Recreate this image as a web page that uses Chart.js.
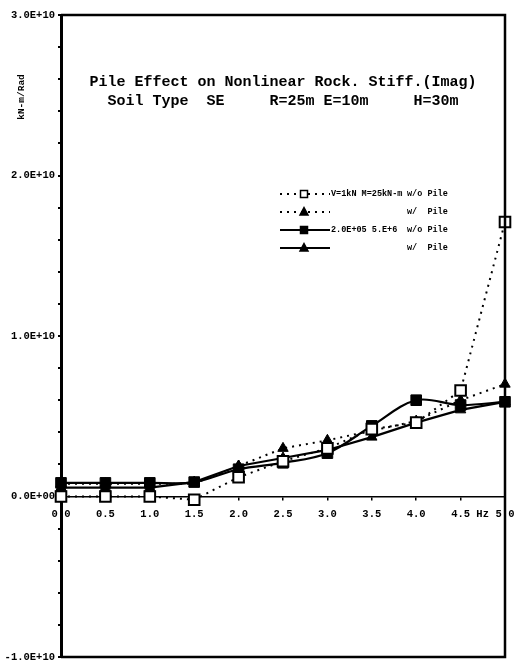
<!DOCTYPE html>
<html>
<head>
<meta charset="utf-8">
<script src="https://cdn.jsdelivr.net/npm/chart.js@4/dist/chart.umd.min.js"></script>
<style>
html,body{margin:0;padding:0;background:#fff;}
canvas{display:block;}
</style>
</head>
<body>
<canvas id="c" width="517" height="662"></canvas>
<script>
// Frequencies (Hz)
const freqs = [0.0, 0.5, 1.0, 1.5, 2.0, 2.5, 3.0, 3.5, 4.0, 4.5, 5.0];
// Stiffness values in units of 1.0E+10 kN-m/Rad
const s1_V1kN_woPile = [0.00, 0.00, 0.00, -0.02, 0.12, 0.22, 0.30, 0.42, 0.46, 0.66, 1.71];
const s2_V1kN_wPile  = [0.08, 0.08, 0.08, 0.08, 0.19, 0.30, 0.35, 0.41, 0.47, 0.60, 0.70];
const s3_2E5_woPile  = [0.085, 0.085, 0.085, 0.09, 0.17, 0.21, 0.27, 0.44, 0.60, 0.57, 0.59];
const s4_2E5_wPile   = [0.055, 0.055, 0.055, 0.09, 0.19, 0.24, 0.29, 0.37, 0.46, 0.54, 0.59];

const xTickLabels = {"0":"0.0","0.5":"0.5","1":"1.0","1.5":"1.5","2":"2.0","2.5":"2.5","3":"3.0","3.5":"3.5","4":"4.0","4.5":"   4.5 Hz","5":"5.0"};
const yTickLabels = {"3":"3.0E+10","2":"2.0E+10","1":"1.0E+10","0":"0.0E+00","-1":"-1.0E+10"};
const legendText = [
  ["V=1kN M=25kN-m", "w/o Pile"],
  ["", "w/  Pile"],
  ["2.0E+05 5.E+6", "w/o Pile"],
  ["", "w/  Pile"]
];
const titleLines = [
  "Pile Effect on Nonlinear Rock. Stiff.(Imag)",
  "Soil Type  SE     R=25m E=10m     H=30m"
];
const yAxisTitle = "kN-m/Rad";

const pts = arr => freqs.map((f,i)=>({x:f, y:arr[i]}));

const datasets = [
  {label:'s1', data:pts(s1_V1kN_woPile), borderColor:'#000', borderWidth:2, borderDash:[2,5],
   pointStyle:'rect', pointRadius:7.5, pointBackgroundColor:'#fff', pointBorderColor:'#000', pointBorderWidth:2, tension:0, clip:false},
  {label:'s2', data:pts(s2_V1kN_wPile), borderColor:'#000', borderWidth:2, borderDash:[2,5],
   pointStyle:'triangle', pointRadius:6, pointBackgroundColor:'#000', pointBorderColor:'#000', pointBorderWidth:1, tension:0, clip:false},
  {label:'s3', data:pts(s3_2E5_woPile), borderColor:'#000', borderWidth:2.2,
   pointStyle:'rect', pointRadius:7.5, pointBackgroundColor:'#000', pointBorderColor:'#000', pointBorderWidth:1, tension:0.35, clip:false},
  {label:'s4', data:pts(s4_2E5_wPile), borderColor:'#000', borderWidth:2.2,
   pointStyle:'triangle', pointRadius:6, pointBackgroundColor:'#000', pointBorderColor:'#000', pointBorderWidth:1, tension:0, clip:false}
];

const decor = {
  id:'decor',
  afterDraw(chart){
    const ctx = chart.ctx, a = chart.chartArea;
    ctx.save();
    // frame
    ctx.strokeStyle='#000'; ctx.lineWidth=2.5; ctx.setLineDash([]);
    ctx.beginPath();
    ctx.moveTo(a.left, a.top); ctx.lineTo(a.right, a.top); ctx.lineTo(a.right, a.bottom); ctx.lineTo(a.left, a.bottom);
    ctx.stroke();
    // title
    ctx.fillStyle='#000';
    ctx.font='bold 15px "Liberation Mono"';
    ctx.textAlign='center'; ctx.textBaseline='middle';
    const cx=(a.left+a.right)/2;
    ctx.fillText(titleLines[0], cx, a.top+67);
    ctx.fillText(titleLines[1], cx, a.top+86);
    // y axis title
    ctx.save();
    ctx.translate(22, 97);
    ctx.rotate(-Math.PI/2);
    ctx.font='bold 9.5px "Liberation Mono"';
    ctx.fillText(yAxisTitle, 0, 0);
    ctx.restore();
    // legend
    const rowY=[194,212,230,248];
    ctx.font='bold 8.5px "Liberation Mono"';
    ctx.textAlign='left';
    chart.data.datasets.forEach((ds,i)=>{
      const y=rowY[i];
      ctx.strokeStyle='#000';
      ctx.lineWidth=ds.borderWidth;
      ctx.setLineDash(ds.borderDash||[]);
      ctx.beginPath(); ctx.moveTo(280,y); ctx.lineTo(330,y); ctx.stroke();
      ctx.setLineDash([]);
      ctx.lineWidth=1.5;
      ctx.fillStyle=ds.pointBackgroundColor;
      ctx.beginPath();
      if(ds.pointStyle==='rect'){ ctx.rect(300.5,y-3.5,7,7); }
      else { ctx.moveTo(304,y-4.5); ctx.lineTo(308,y+3); ctx.lineTo(300,y+3); ctx.closePath(); }
      ctx.fill(); ctx.stroke();
      ctx.fillStyle='#000';
      if(legendText[i][0]) ctx.fillText(legendText[i][0], 331, y);
      ctx.fillText(legendText[i][1], 407, y);
    });
    ctx.restore();
  }
};

new Chart(document.getElementById('c'), {
  type:'line',
  data:{datasets},
  options:{
    responsive:false, animation:false, devicePixelRatio:1,
    layout:{autoPadding:false, padding:{top:15, right:12, bottom:5, left:0}},
    plugins:{legend:{display:false}, title:{display:false}, tooltip:{enabled:false}},
    scales:{
      x:{type:'linear', min:0, max:5, position:{y:0},
         ticks:{stepSize:0.5, autoSkip:false, maxRotation:0, color:'#000', padding:9,
                font:{family:'"Liberation Mono"', size:10.5, weight:'bold'},
                callback:v=>xTickLabels[String(Math.round(v*10)/10)] ?? ''},
         grid:{drawOnChartArea:false, color:'#000', tickLength:3, lineWidth:1.5},
         border:{display:true, color:'#000', width:1.5},
         afterFit(scale){ scale.paddingLeft=0; scale.paddingRight=0; }},
      y:{type:'linear', min:-1, max:3,
         ticks:{stepSize:0.2, autoSkip:false, color:'#000', padding:3,
                font:{family:'"Liberation Mono"', size:10.5, weight:'bold'},
                callback:v=>{const r=Math.round(v*10)/10; return Math.abs(r-Math.round(r))<1e-6 ? (yTickLabels[String(Math.round(r))]??'') : '';}},
         grid:{drawOnChartArea:false, color:'#000', tickLength:3, lineWidth:2},
         border:{display:true, color:'#000', width:3},
         afterFit(scale){ scale.width=61; scale.paddingTop=0; scale.paddingBottom=0; }}
    }
  },
  plugins:[decor]
});
</script>
</body>
</html>
